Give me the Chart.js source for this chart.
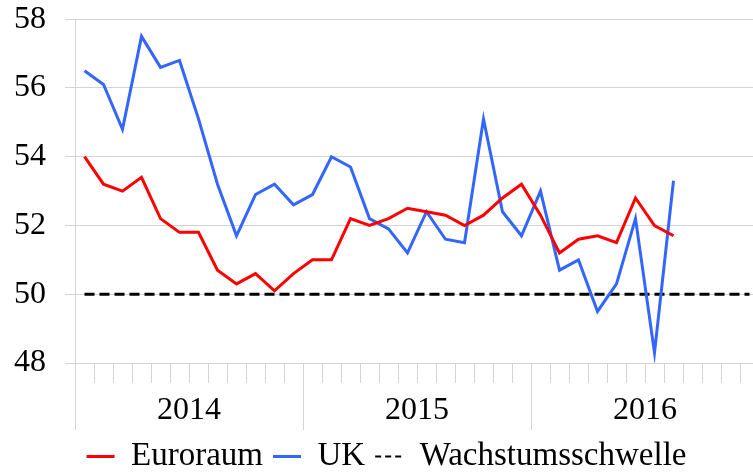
<!DOCTYPE html>
<html>
<head>
<meta charset="utf-8">
<script src="https://cdn.jsdelivr.net/npm/chart.js@4"></script>
<style>
  html, body { margin: 0; padding: 0; background: #fff; overflow: hidden; }
  #wrap { width: 753px; height: 474px; overflow: hidden; }
</style>
</head>
<body>
<div id="wrap"><canvas id="pmiChart" width="759" height="474"></canvas></div>
<script>
// Einkaufsmanagerindex Industrie, Jan 2014 - Dez 2016
const monate = [
  'Jan 14', 'Feb 14', 'Mär 14', 'Apr 14', 'Mai 14', 'Jun 14', 'Jul 14', 'Aug 14', 'Sep 14', 'Okt 14', 'Nov 14', 'Dez 14',
  'Jan 15', 'Feb 15', 'Mär 15', 'Apr 15', 'Mai 15', 'Jun 15', 'Jul 15', 'Aug 15', 'Sep 15', 'Okt 15', 'Nov 15', 'Dez 15',
  'Jan 16', 'Feb 16', 'Mär 16', 'Apr 16', 'Mai 16', 'Jun 16', 'Jul 16', 'Aug 16', 'Sep 16', 'Okt 16', 'Nov 16', 'Dez 16'
];
const jahre = ['2014', '2015', '2016'];

const euroraum = [
  54.0, 53.2, 53.0, 53.4, 52.2, 51.8, 51.8, 50.7, 50.3, 50.6, 50.1, 50.6,
  51.0, 51.0, 52.2, 52.0, 52.2, 52.5, 52.4, 52.3, 52.0, 52.3, 52.8, 53.2,
  52.3, 51.2, 51.6, 51.7, 51.5, 52.8, 52.0, 51.7
];
const uk = [
  56.5, 56.1, 54.8, 57.5, 56.6, 56.8, 55.1, 53.2, 51.7, 52.9, 53.2, 52.6,
  52.9, 54.0, 53.7, 52.2, 51.9, 51.2, 52.4, 51.6, 51.5, 55.1, 52.4, 51.7,
  53.0, 50.7, 51.0, 49.5, 50.3, 52.2, 48.3, 53.3
];
const schwelle = [
  50, 50, 50, 50, 50, 50, 50, 50, 50, 50, 50, 50,
  50, 50, 50, 50, 50, 50, 50, 50, 50, 50, 50, 50,
  50, 50, 50, 50, 50, 50, 50, 50, 50, 50, 50, 50
];
const yTicks = [48, 50, 52, 54, 56, 58];

const serif = 'Liberation Serif';
const gridColor = '#d4d4d4';

const data = {
  labels: monate,
  datasets: [{
    label: 'Euroraum',
    data: euroraum,
    borderColor: '#ff0000',
    backgroundColor: '#ff0000',
    borderWidth: 3,
    pointRadius: 0
  }, {
    label: 'UK',
    data: uk,
    borderColor: '#3366ff',
    backgroundColor: '#3366ff',
    borderWidth: 3,
    pointRadius: 0
  }, {
    label: 'Wachstumsschwelle',
    data: schwelle,
    borderColor: '#000000',
    backgroundColor: '#000000',
    borderWidth: 3,
    borderDash: [10, 5],
    pointRadius: 0
  }]
};

// month ticks short, year boundaries long (same grid, different dash)
const tickDash = ctx => (ctx.index === undefined || ctx.index % 12 === 0) ? [66, 400] : [19, 400];

// legend: line samples like the series, short thin dashes for the threshold
const legendLabels = chart => {
  const items = Chart.defaults.plugins.legend.labels.generateLabels(chart);
  items.forEach(item => {
    const ds = chart.data.datasets[item.datasetIndex];
    item.strokeStyle = ds.borderColor;
    if (ds.borderDash) {
      item.lineDash = [6, 4];
      item.lineWidth = 2;
    } else {
      item.lineWidth = 3;
    }
  });
  return items;
};

const config = {
  type: 'line',
  data: data,
  options: {
    responsive: false,
    animation: false,
    layout: { padding: { left: 14, right: 0, top: 0, bottom: -9 } },
    plugins: {
      tooltip: { enabled: false },
      legend: {
        position: 'bottom',
        labels: {
          font: { family: serif, size: 33 },
          color: '#000',
          usePointStyle: true,
          pointStyle: 'line',
          pointStyleWidth: 28,
          padding: 10,
          generateLabels: legendLabels
        }
      }
    },
    scales: {
      x: {
        type: 'category',
        offset: true,
        grid: {
          offset: true,
          drawOnChartArea: false,
          tickLength: 163,
          color: gridColor,
          tickBorderDash: tickDash
        },
        border: { display: true, color: gridColor },
        ticks: {
          autoSkip: false,
          maxRotation: 0,
          mirror: true,
          crossAlign: 'center',
          padding: -48,
          labelOffset: -9.5,
          font: { family: serif, size: 32 },
          color: '#000',
          callback: (v, i) => i % 12 === 6 ? jahre[Math.floor(i / 12)] : ''
        }
      },
      y: {
        min: 48,
        max: 58,
        afterBuildTicks: axis => { axis.ticks = yTicks.map(v => ({ value: v })); },
        grid: { color: gridColor, tickLength: 29, tickBorderDash: [0, 19, 10, 100] },
        border: { display: true, color: gridColor },
        ticks: { font: { family: serif, size: 32 }, color: '#000', padding: 0 }
      }
    }
  }
};

const chart = new Chart(document.getElementById('pmiChart'), config);
</script>
</body>
</html>
